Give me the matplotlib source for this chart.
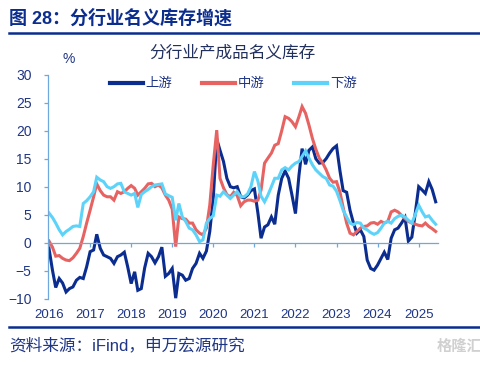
import matplotlib
matplotlib.use("Agg")
import matplotlib.pyplot as plt
import pandas as pd

plt.rcParams['font.family'] = ['Liberation Sans', 'Noto Sans CJK SC']

# 分行业产成品名义库存同比（%），月度，2016-01 起
upstream = [
    -1.0, -4.9, -8.0, -6.4, -7.2, -8.8, -8.2, -7.9, -6.7, -6.2, -6.4, -4.3,   # 2016
    -1.6, -1.3, 1.5, -1.0, -2.2, -2.5, -2.8, -3.7, -2.5, -2.2, -1.7, -4.3,    # 2017
    -7.3, -5.2, -8.5, -8.2, -4.5, -1.9, -2.5, -3.6, -2.5, -0.8, -6.0, -5.5,   # 2018
    -4.6, -9.9, -5.5, -5.8, -6.7, -6.4, -4.6, -3.7, -1.9, -2.8, -1.5, 2.0,    # 2019
    8.0, 18.5, 16.5, 14.5, 11.5, 10.0, 9.8, 10.0, 8.2, 8.0, 8.5, 9.3,         # 2020
    9.6, 5.3, 0.8, 2.8, 3.2, 4.6, 3.3, 8.5, 11.5, 12.8, 11.5, 8.5,            # 2021
    5.2, 12.0, 16.8, 14.0, 16.5, 17.1, 15.0, 14.2, 14.3, 15.0, 16.0, 16.8,    # 2022
    17.3, 12.8, 9.3, 9.0, 5.8, 3.5, 1.7, 2.3, 1.1, -3.1, -4.6, -4.9,          # 2023
    -4.0, -2.8, -1.7, -3.0, 0.8, 2.3, 2.6, 3.5, 4.5, 0.3, 1.0, 5.2,           # 2024
    10.0, 9.4, 8.8, 10.9, 9.5, 7.3,                                           # 2025
]
midstream = [
    0.3, -0.8, -2.4, -2.3, -2.8, -3.1, -3.2, -2.7, -1.9, -1.0, 1.1, 3.5,
    5.8, 8.2, 10.5, 9.3, 8.5, 8.2, 8.2, 7.6, 9.1, 8.8, 9.1, 9.7,
    10.2, 9.7, 8.5, 9.1, 9.7, 10.5, 10.6, 10.0, 10.3, 9.8, 8.5, 7.6,
    6.0, -0.7, 4.6, 4.3, 4.2, 3.5, 3.5, 2.3, 1.7, 1.4, 2.6, 6.7,
    13.9, 20.1, 11.5, 9.8, 8.6, 8.2, 9.0, 8.4, 6.6, 7.3, 7.6, 7.6,
    7.4, 7.6, 9.4, 14.2, 15.1, 16.0, 17.4, 17.7, 20.0, 22.5, 22.2, 21.6,
    20.7, 22.5, 24.3, 23.1, 21.0, 18.6, 16.7, 15.1, 14.2, 13.0, 11.5, 10.8,
    10.9, 9.0, 6.3, 3.5, 1.7, 1.4, 2.0, 2.6, 2.9, 3.0, 3.5, 3.6,
    3.3, 3.8, 3.5, 3.8, 5.5, 5.8, 5.5, 4.9, 4.3, 3.8, 3.5, 3.3,
    3.1, 3.0, 3.5, 2.9, 2.5, 2.0,
]
downstream = [
    5.3, 4.5, 3.5, 2.3, 1.4, 2.0, 2.4, 2.9, 3.0, 2.9, 7.0, 7.5,
    8.2, 9.1, 11.7, 11.2, 10.9, 10.0, 9.7, 10.0, 10.5, 10.6, 9.1, 8.8,
    8.5, 8.8, 6.3, 8.6, 9.1, 9.5, 10.0, 10.3, 10.4, 10.5, 8.7, 8.4,
    8.1, 4.0, 7.0, 4.6, 3.8, 2.6, 2.3, 1.4, 0.2, 0.5, 3.5, 4.3,
    4.8, 8.5, 8.3, 9.1, 8.5, 7.9, 8.5, 9.1, 8.2, 8.2, 8.7, 10.0,
    12.7, 11.0, 8.3, 7.3, 8.5, 10.0, 11.5, 11.5, 13.0, 13.4, 13.0, 13.7,
    14.2, 14.5, 15.4, 16.4, 15.1, 13.9, 13.0, 12.4, 11.8, 11.5, 10.3, 10.1,
    9.2, 7.5, 5.8, 4.6, 3.5, 3.2, 3.6, 3.5, 2.6, 2.3, 1.8, 1.5,
    1.8, 2.6, 3.5, 3.8, 3.5, 4.3, 4.7, 4.9, 4.6, 4.0, 3.5, 5.0,
    6.7, 5.5, 4.6, 4.8, 4.0, 3.3,
]
series_names = ['上游', '中游', '下游']
year_labels = [str(y) for y in range(2016, 2026)]
y_ticks = [-10, -5, 0, 5, 10, 15, 20, 25, 30]

NAVY = '#0B2D8E'
TEXT = '#1F3585'
AXIS = '#6FA8DC'
colors = ['#0A2D8F', '#E66362', '#5DD3FA']

months = pd.date_range('2016-01-01', periods=len(upstream), freq='MS')
year_pos = pd.to_datetime([f'{y}-01-01' for y in year_labels])

fig = plt.figure(figsize=(4.81, 3.67), dpi=100)
ax = fig.add_axes([0.1004, 0.1861, 0.811, 0.6104])

for vals, name, c in zip([upstream, midstream, downstream], series_names, colors):
    ax.plot(months, vals, color=c, lw=2.2, label=name, solid_joinstyle='miter')

ax.set_ylim(-10, 30)
ax.set_yticks(y_ticks)
ax.set_xlim(pd.Timestamp('2015-12-26'), pd.Timestamp('2025-06-25'))
ax.set_xticks(year_pos)

for s in ['top', 'right']:
    ax.spines[s].set_visible(False)
ax.spines['bottom'].set_position(('data', 0))
for s in ['left', 'bottom']:
    ax.spines[s].set_color(AXIS)
    ax.spines[s].set_linewidth(0.9)

ax.tick_params(axis='y', direction='out', length=3, width=0.9, color=AXIS,
               labelcolor=TEXT, labelsize=10, pad=9)
ax.tick_params(axis='x', direction='out', length=3, width=0.9, color=AXIS,
               labelbottom=False)

for pos, lab in zip(year_pos, year_labels):
    ax.text(pos, -0.073, lab, transform=ax.get_xaxis_transform(),
            ha='center', va='center', fontsize=9.5, color=TEXT)

leg = ax.legend(loc='center', bbox_to_anchor=(0.474, 0.958), ncol=3,
                frameon=False, fontsize=9.6, handlelength=2.5,
                handletextpad=0.2, columnspacing=2.2, labelcolor=TEXT)
for line in leg.get_lines():
    line.set_linewidth(3)

# titles and notes
fig.text(0.019, 0.951, '图 28：分行业名义库存增速', fontsize=13, fontweight='bold',
         color=NAVY, ha='left', va='center')
fig.add_artist(plt.Line2D([0.019, 1.0], [0.910, 0.910], color=NAVY, lw=1.8))
fig.text(0.484, 0.856, '分行业产成品名义库存', fontsize=12, color='#22305E',
         ha='center', va='center')
fig.text(0.143, 0.838, '%', fontsize=10, color=TEXT, ha='center', va='center')
fig.add_artist(plt.Line2D([0.019, 1.0], [0.109, 0.109], color=NAVY, lw=1.8))
fig.text(0.019, 0.060, '资料来源：iFind，申万宏源研究', fontsize=12, color=TEXT,
         ha='left', va='center')
fig.text(0.955, 0.056, '格隆汇', fontsize=11, color='#D0D0D0',
         ha='center', va='center', fontweight='bold')

fig.savefig('out.png', dpi=100)
